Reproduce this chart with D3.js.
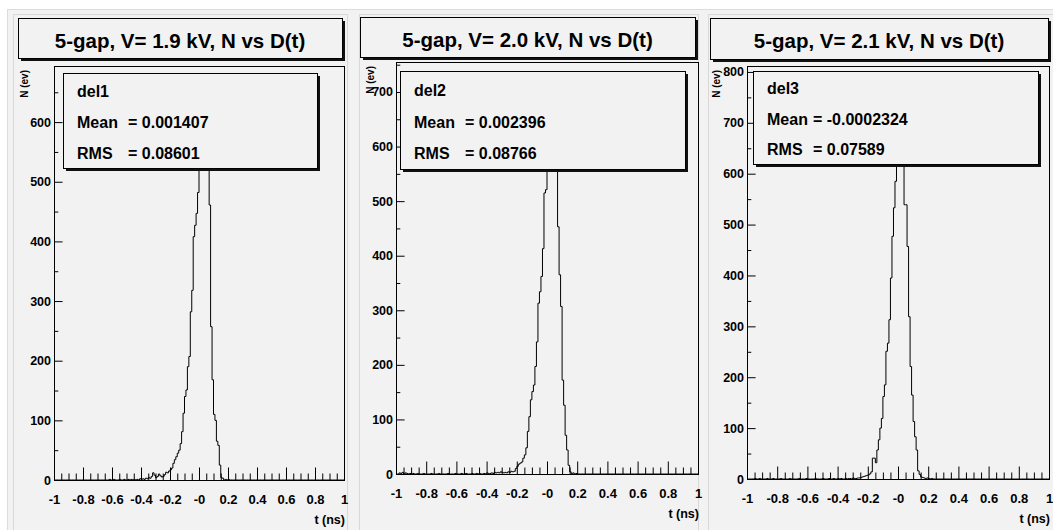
<!DOCTYPE html>
<html>
<head>
<meta charset="utf-8">
<script src="https://cdn.jsdelivr.net/npm/d3@7"></script>
<style>
  html, body { margin: 0; padding: 0; background: #fff; }
  svg { display: block; font-family: "Liberation Sans", Arial, Helvetica, sans-serif; font-weight: bold; }
</style>
</head>
<body>
<svg id="chart" width="1053" height="530"></svg>
<script>
// ---- data (bin width 0.01 ns, range -1..1) ----
const binWidth = 0.01;
const xRange = [-1, 1];
const xTickLabels = ["-1", "-0.8", "-0.6", "-0.4", "-0.2", "-0", "0.2", "0.4", "0.6", "0.8", "1"];
const yTickStep = 100;

const titles = [
  "5-gap, V= 1.9 kV, N vs D(t)",
  "5-gap, V= 2.0 kV, N vs D(t)",
  "5-gap, V= 2.1 kV, N vs D(t)"
];
const histNames = ["del1", "del2", "del3"];
const meanValues = ["0.001407", "0.002396", "-0.0002324"];
const rmsValues = ["0.08601", "0.08766", "0.07589"];

// counts per bin, starting at the given bin edge
const del1Start = -0.62;
const del1Counts = [
  1, 0, 0, 1, 0, 0, 0, 1, 0, 0,
  1, 0, 0, 1, 0, 1, 0, 1, 0, 1,
  0, 2, 1, 2, 1, 3, 2, 4, 3, 6,
  12, 8, 4, 6, 10, 7, 5, 6, 9, 13,
  12, 15, 17, 20, 28, 34, 39, 45, 50, 61,
  81, 112, 140, 151, 190, 207, 282, 318, 408, 427,
  447, 482,
  545, 610, 661, 650, 628, 590, 530,
  461, 257, 168, 110, 100, 65, 58, 25, 4, 3,
  0, 1, 0, 1
];

const del2Start = -0.98;
const del2Counts = [
  2, 1, 3, 0, 2, 1, 0, 1, 0, 1,
  0, 0, 1, 0, 0, 0, 1, 0, 0, 0,
  0, 1, 0, 0, 0, 0, 1, 0, 0, 0,
  0, 0, 1, 0, 0, 0, 0, 1, 0, 0,
  0, 1, 0, 0, 1, 0, 0, 0, 1, 0,
  0, 1, 0, 1, 0, 0, 1, 0, 2, 1,
  1, 2, 1, 3, 2, 3, 2, 4, 3, 2,
  3, 2, 4, 3, 5, 4, 5, 10, 14, 18,
  20, 22, 29, 35, 48, 78, 105, 136, 151, 163,
  197, 242, 313, 334, 362, 413, 515, 521,
  580, 650, 700, 719, 690, 640, 570,
  453, 365, 307, 172, 126, 71, 44, 16, 4, 1,
  2, 0, 1, 0
];

const del3Start = -0.95;
const del3Counts = [
  1, 0, 0, 1, 0, 0, 0, 0, 1, 0,
  0, 0, 1, 0, 0, 0, 0, 1, 0, 0,
  0, 0, 0, 1, 0, 0, 0, 0, 0, 1,
  0, 0, 0, 0, 1, 0, 0, 0, 0, 0,
  1, 0, 0, 0, 0, 1, 0, 0, 0, 1,
  0, 0, 1, 0, 0, 1, 0, 1, 0, 0,
  1, 0, 1, 1, 0, 2, 1, 1, 2, 2,
  3, 4, 5, 6, 7, 8, 10, 14, 41, 41,
  32, 57, 77, 100, 119, 162, 185, 251, 267, 313,
  395, 477, 533, 585,
  660, 730, 773, 745, 690,
  539, 539, 457, 319, 221, 165, 113, 83, 57, 16,
  9, 4, 3, 2, 1, 2, 1, 0, 1
];

const histograms = [
  { start: del1Start, counts: del1Counts },
  { start: del2Start, counts: del2Counts },
  { start: del3Start, counts: del3Counts }
];

// ---- layout of the three pads (pixels) ----
const pads = [
  { x0: 13, x1: 347,
    frame: { left: 54, right: 344, top: 66, bottom: 480 },
    titleBox: { x: 18, y: 18, w: 324, h: 40 },
    statsBox: { x: 63, y: 73, w: 254, h: 95, eqDx: 65 },
    yTitleDx: 26 },
  { x0: 359, x1: 698,
    frame: { left: 396, right: 698, top: 62, bottom: 474 },
    titleBox: { x: 360, y: 17, w: 335, h: 40 },
    statsBox: { x: 400, y: 71, w: 285, h: 98, eqDx: 65 },
    yTitleDx: 22 },
  { x0: 708, x1: 1053,
    frame: { left: 747, right: 1049, top: 66, bottom: 479 },
    titleBox: { x: 710, y: 18, w: 338, h: 41 },
    statsBox: { x: 753, y: 71, w: 285, h: 93, eqDx: 60 },
    yTitleDx: 27 }
];

const bg = "#f2f2f2";
const nBins = Math.round((xRange[1] - xRange[0]) / binWidth);

function fillBins(start, counts) {
  const bins = new Array(nBins).fill(0);
  const offset = Math.round((start - xRange[0]) / binWidth);
  counts.forEach((c, j) => { bins[offset + j] = c; });
  return bins;
}

function styleAxis(axisG, fontSize) {
  axisG.select(".domain").remove();
  axisG.attr("font-family", null).attr("font-size", null);
  axisG.selectAll("line").attr("stroke", "#000");
  axisG.selectAll("text")
    .attr("fill", "#000")
    .style("font-size", fontSize + "px");
}

function drawPad(svg, pad, i) {
  const f = pad.frame;
  const bins = fillBins(histograms[i].start, histograms[i].counts);
  const ymax = d3.max(bins) * 1.05;

  const x = d3.scaleLinear().domain(xRange).range([f.left, f.right]);
  const y = d3.scaleLinear().domain([0, ymax]).range([f.bottom, f.top]);

  const g = svg.append("g");

  // pad border
  g.append("rect")
    .attr("x", pad.x0 + 0.5).attr("y", 14.5)
    .attr("width", pad.x1 - pad.x0).attr("height", 530)
    .attr("fill", bg).attr("stroke", "#d8d8d8");

  // frame
  g.append("rect")
    .attr("x", f.left + 0.5).attr("y", f.top + 0.5)
    .attr("width", f.right - f.left).attr("height", f.bottom - f.top)
    .attr("fill", bg).attr("stroke", "#000");

  // x axis: minor every 0.05, major from tick labels
  const xMajor = xTickLabels.map(Number);
  const xMinor = d3.range(-20, 21).filter(k => k % 4 !== 0).map(k => k * 0.05);

  const xMinorG = g.append("g")
    .attr("transform", `translate(0,${f.bottom})`)
    .call(d3.axisBottom(x).tickValues(xMinor).tickSize(-6.5).tickFormat(""));
  styleAxis(xMinorG, 13);

  const xMajorG = g.append("g")
    .attr("transform", `translate(0,${f.bottom})`)
    .call(d3.axisBottom(x).tickValues(xMajor).tickSize(-12.5).tickPadding(14.5)
      .tickFormat((d, k) => xTickLabels[k]));
  styleAxis(xMajorG, 13);

  // y axis: major every 100, minor halfway
  const yMajor = d3.range(0, ymax, yTickStep);
  const yMinor = d3.range(yTickStep / 2, ymax, yTickStep);

  const yMinorG = g.append("g")
    .attr("transform", `translate(${f.left},0)`)
    .call(d3.axisLeft(y).tickValues(yMinor).tickSize(-4.3).tickFormat(""));
  styleAxis(yMinorG, 12.5);

  const yMajorG = g.append("g")
    .attr("transform", `translate(${f.left},0)`)
    .call(d3.axisLeft(y).tickValues(yMajor).tickSize(-8.6).tickPadding(3));
  styleAxis(yMajorG, 12.5);

  // histogram outline
  const points = bins.map((c, k) => [xRange[0] + k * binWidth, c]);
  points.push([xRange[1], bins[nBins - 1]]);
  const line = d3.line()
    .x(d => x(d[0]))
    .y(d => y(d[1]))
    .curve(d3.curveStepAfter);

  g.append("path")
    .datum(points)
    .attr("d", line)
    .attr("fill", "none")
    .attr("stroke", "#000")
    .attr("stroke-width", 1);

  // axis titles
  g.append("text")
    .attr("x", f.right + 1).attr("y", f.bottom + 44)
    .attr("text-anchor", "end")
    .style("font-size", "12.5px")
    .text("t (ns)");

  g.append("text")
    .attr("transform", `translate(${f.left - pad.yTitleDx},${f.top + 4}) rotate(-90)`)
    .attr("text-anchor", "end")
    .style("font-size", "10px")
    .text("N (ev)");

  // title box
  const tb = pad.titleBox;
  g.append("rect")
    .attr("x", tb.x + 3).attr("y", tb.y + 3).attr("width", tb.w).attr("height", tb.h)
    .attr("fill", "#111");
  g.append("rect")
    .attr("x", tb.x + 0.5).attr("y", tb.y + 0.5).attr("width", tb.w).attr("height", tb.h)
    .attr("fill", bg).attr("stroke", "#000");
  g.append("text")
    .attr("x", tb.x + tb.w / 2).attr("y", tb.y + 30)
    .attr("text-anchor", "middle")
    .style("font-size", "20.5px")
    .text(titles[i]);

  // stats box
  const sb = pad.statsBox;
  g.append("rect")
    .attr("x", sb.x + 3).attr("y", sb.y + 3).attr("width", sb.w).attr("height", sb.h)
    .attr("fill", "#111");
  g.append("rect")
    .attr("x", sb.x + 0.5).attr("y", sb.y + 0.5).attr("width", sb.w).attr("height", sb.h)
    .attr("fill", bg).attr("stroke", "#000");

  const rows = [
    { label: histNames[i], value: null, fy: 0.25 },
    { label: "Mean", value: meanValues[i], fy: 0.58 },
    { label: "RMS", value: rmsValues[i], fy: 0.9 }
  ];
  rows.forEach(r => {
    g.append("text")
      .attr("x", sb.x + 14).attr("y", sb.y + sb.h * r.fy)
      .style("font-size", "16px")
      .text(r.label);
    if (r.value !== null) {
      g.append("text")
        .attr("x", sb.x + sb.eqDx).attr("y", sb.y + sb.h * r.fy)
        .style("font-size", "16px")
        .text("= " + r.value);
    }
  });
}

const svg = d3.select("#chart");
svg.append("rect")
  .attr("x", 7.5).attr("y", 9.5).attr("width", 1050).attr("height", 530)
  .attr("fill", bg).attr("stroke", "#dcdcdc");

pads.forEach((pad, i) => drawPad(svg, pad, i));
</script>
</body>
</html>
